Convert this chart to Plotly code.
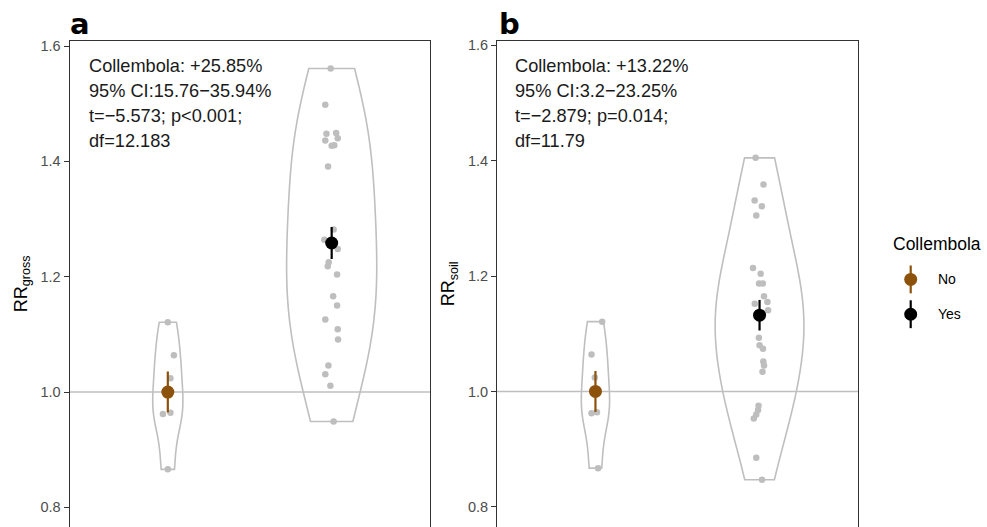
import numpy as np
import plotly.graph_objects as go

# ---------------- data ----------------
groups = ["No", "Yes"]
group_pos = [1, 2]
group_colors = ["#8c510a", "#000000"]

# panel a (RR gross)
a_no = [1.121, 1.064, 1.024, 0.962, 0.964, 0.866]
a_no_jit = [0.0, 0.037, 0.016, -0.030, 0.016, 0.0]
a_yes = [1.561, 1.498, 1.448, 1.449, 1.436, 1.440, 1.427, 1.428, 1.391, 1.282,
         1.264, 1.248, 1.225, 1.218, 1.204, 1.166, 1.150, 1.126, 1.109, 1.091,
         1.046, 1.031, 1.011, 0.949]
a_yes_jit = [-0.006, -0.039, -0.032, 0.027, -0.039, 0.037, 0.0, 0.016, -0.022, 0.012,
             -0.045, 0.037, -0.018, -0.024, 0.033, 0.009, 0.033, -0.039, 0.037, 0.039,
             -0.020, -0.039, -0.008, 0.012]
a_mean = [1.0, 1.2585]
a_se = [0.0355, 0.0278]

# panel b (RR soil)
b_no = [1.121, 1.064, 1.024, 0.962, 0.964, 0.867]
b_no_jit = [0.041, -0.024, -0.004, -0.024, 0.009, 0.016]
b_yes = [1.405, 1.359, 1.331, 1.321, 1.305, 1.214, 1.204, 1.187, 1.187, 1.165,
         1.152, 1.155, 1.141, 1.093, 1.080, 1.074, 1.052, 1.045, 1.034, 0.975,
         0.968, 0.960, 0.953, 0.885, 0.847]
b_yes_jit = [-0.024, 0.024, -0.030, 0.014, -0.020, -0.040, 0.007, -0.003, 0.020, 0.027,
             -0.029, 0.048, 0.052, -0.004, 0.0, 0.021, 0.023, 0.027, 0.018, -0.006,
             -0.009, -0.020, -0.035, -0.020, 0.015]
b_mean = [1.0, 1.1322]
b_se = [0.0355, 0.0265]

a_text = ["Collembola: +25.85%", "95% CI:15.76\u221235.94%", "t=\u22125.573; p<0.001;", "df=12.183"]
b_text = ["Collembola: +13.22%", "95% CI:3.2\u221223.25%", "t=\u22122.879; p=0.014;", "df=11.79"]

y_ticks = [0.8, 1.0, 1.2, 1.4, 1.6]
y_ticklabels = ["0.8", "1.0", "1.2", "1.4", "1.6"]

# ---------------- layout constants ----------------
W, H = 987, 527
FONT = "Liberation Sans, Arial, sans-serif"
GRAY = "#bfbfbf"


def px_x(p):
    return p / W


def px_y(p):
    return 1 - p / H


def nrd0(v, adjust=1.0):
    v = np.asarray(v, dtype=float)
    sd = v.std(ddof=1)
    iqr = np.percentile(v, 75) - np.percentile(v, 25)
    lo = min(sd, iqr / 1.34)
    if lo <= 0:
        lo = sd
    return adjust * 0.9 * lo * len(v) ** (-0.2)


fig = go.Figure()

panels = [
    dict(xa="x", ya="y", no=a_no, nojit=a_no_jit, yes=a_yes, yesjit=a_yes_jit,
         mean=a_mean, se=a_se, widths=[0.184, 0.55]),
    dict(xa="x2", ya="y2", no=b_no, nojit=b_no_jit, yes=b_yes, yesjit=b_yes_jit,
         mean=b_mean, se=b_se, widths=[0.172, 0.54]),
]

for p in panels:
    for vals, pos, w, adj in [(p["no"], group_pos[0], p["widths"][0], 1.0),
                              (p["yes"], group_pos[1], p["widths"][1], 1.6)]:
        fig.add_trace(go.Violin(
            y=vals, x0=pos, xaxis=p["xa"], yaxis=p["ya"],
            width=w, scalemode="width", spanmode="hard", bandwidth=nrd0(vals, adj),
            points=False, box_visible=False, meanline_visible=False,
            line=dict(color=GRAY, width=1.6), fillcolor="rgba(255,255,255,0)",
            showlegend=False, hoverinfo="skip"))
    for vals, jit, pos in [(p["no"], p["nojit"], group_pos[0]), (p["yes"], p["yesjit"], group_pos[1])]:
        fig.add_trace(go.Scatter(
            x=[pos + j for j in jit], y=vals, xaxis=p["xa"], yaxis=p["ya"], mode="markers",
            marker=dict(size=6.5, color="#bebebe"), showlegend=False, hoverinfo="skip"))
    for i in range(2):
        fig.add_trace(go.Scatter(
            x=[group_pos[i]], y=[p["mean"][i]], xaxis=p["xa"], yaxis=p["ya"], mode="markers",
            marker=dict(size=13, color=group_colors[i]),
            error_y=dict(type="data", array=[p["se"][i]], color=group_colors[i], thickness=2.2, width=0),
            showlegend=False, name=groups[i]))

axis_common_y = dict(
    tickvals=y_ticks, ticktext=y_ticklabels, ticks="outside", ticklen=5, tickwidth=1,
    tickcolor="#333333", tickfont=dict(family=FONT, size=14.5, color="#4d4d4d"),
    showgrid=False, zeroline=False, showline=True, mirror=True, linecolor="#333333",
    linewidth=1, title_font=dict(family=FONT, size=18, color="#000000"),
)
axis_common_x = dict(
    type="linear", range=[0.4, 2.6], showgrid=False, zeroline=False, showticklabels=False,
    ticks="", showline=True, side="top", linecolor="#333333", linewidth=1,
)

top = px_y(38)
fig.update_layout(
    width=W, height=H, margin=dict(l=0, r=0, t=0, b=0),
    paper_bgcolor="white", plot_bgcolor="white",
    xaxis=dict(domain=[px_x(69.5), px_x(430)], anchor="y", **axis_common_x),
    xaxis2=dict(domain=[px_x(497), px_x(858)], anchor="y2", **axis_common_x),
    yaxis=dict(domain=[0, top], anchor="x", range=[0.7660, 1.6091],
               title=dict(text="RR<sub>gross</sub>", standoff=8), **axis_common_y),
    yaxis2=dict(domain=[0, top], anchor="x2", range=[0.7650, 1.6080],
                title=dict(text="RR<sub>soil</sub>", standoff=8), **axis_common_y),
    showlegend=False,
)

# reference line at 1
for xr, yr in [("x domain", "y"), ("x2 domain", "y2")]:
    fig.add_shape(type="line", xref=xr, yref=yr, x0=0, x1=1, y0=1, y1=1,
                  line=dict(color=GRAY, width=1.5), layer="below")

# panel statistics text
line_y = [63.5, 88.5, 113.5, 138.5]
for texts, x_left in [(a_text, 87), (b_text, 513)]:
    for t, yy in zip(texts, line_y):
        fig.add_annotation(text=t, xref="paper", yref="paper", x=px_x(x_left), y=px_y(yy),
                           xanchor="left", yanchor="middle", showarrow=False,
                           font=dict(family=FONT, size=18.2, color="#1a1a1a"))

# panel letters
for letter, x_left in [("a", 68), ("b", 497)]:
    fig.add_annotation(text="<b>%s</b>" % letter, xref="paper", yref="paper",
                       x=px_x(x_left), y=px_y(21), xanchor="left", yanchor="middle",
                       showarrow=False, font=dict(family="DejaVu Sans", size=29, color="#000000"))

# legend (drawn manually to reproduce pointrange keys)
fig.add_annotation(text="Collembola", xref="paper", yref="paper", x=px_x(891), y=px_y(242),
                   xanchor="left", yanchor="middle", showarrow=False,
                   font=dict(family=FONT, size=17.5, color="#000000"))
for i, (lab, yy) in enumerate(zip(groups, [278, 313])):
    c = group_colors[i]
    fig.add_shape(type="line", xref="paper", yref="paper", x0=px_x(910.7), x1=px_x(910.7),
                  y0=px_y(yy - 14), y1=px_y(yy + 14), line=dict(color=c, width=2.2))
    fig.add_shape(type="circle", xref="paper", yref="paper", x0=px_x(904.2), x1=px_x(917.2),
                  y0=px_y(yy + 6.5), y1=px_y(yy - 6.5), line=dict(color=c, width=0), fillcolor=c)
    fig.add_annotation(text=lab, xref="paper", yref="paper", x=px_x(936), y=px_y(yy),
                       xanchor="left", yanchor="middle", showarrow=False,
                       font=dict(family=FONT, size=14, color="#000000"))

fig.write_html(
    "out.html",
    config={"displayModeBar": False},
    post_script=(
        "document.body.style.margin='0px';document.body.style.overflow='hidden';"
        "var gd=document.getElementById('{plot_id}');"
        "gd.style.position='absolute';gd.style.top='0px';gd.style.left='0px';"
    ),
)
